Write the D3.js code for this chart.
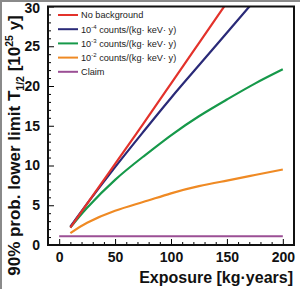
<!DOCTYPE html>
<html>
<head>
<meta charset="utf-8">
<script src="https://cdn.jsdelivr.net/npm/d3@7"></script>
<style>
  body { margin: 0; background: #fff; }
  svg { display: block; font-family: "Liberation Sans", Arial, sans-serif; }
  .axis path { display: none; }
  .axis line { stroke: #000; stroke-width: 1; }
  .axis text { font-size: 14px; font-weight: bold; fill: #111; }
</style>
</head>
<body>
<div id="chart"></div>
<script>
// exposure in kg*years, limit in 10^25 y
var exposure   = [10, 25, 50, 75, 100, 125, 150, 175, 200]
var noBkg      = [2.2, 5.2, 10.2, 15.2, 20.3, 25.4, 30.5]
var bkg1e4     = [2.3, 5.2, 9.8, 14.2, 18.5, 22.6, 26.7, 30.8]
var bkg1e3     = [2.2, 4.7, 8.2, 11.1, 13.8, 16.2, 18.3, 20.3, 22.1]
var bkg1e2     = [1.5, 2.8, 4.3, 5.4, 6.5, 7.4, 8.1, 8.8, 9.5]
var claimX     = [0, 200]
var claimY     = [1.1, 1.1]
var xTicks     = [0, 50, 100, 150, 200]
var yTicks     = [0, 5, 10, 15, 20, 25, 30]

var seriesNames  = ["No background", "-4", "-3", "-2", "Claim"]
var seriesColors = ["#e3322b", "#2a2a78", "#16994a", "#ef8a24", "#9b4f95"]

var width = 300, height = 289

var svg = d3.select("#chart").append("svg")
  .attr("width", width)
  .attr("height", height)

svg.append("rect").attr("width", width).attr("height", height).attr("fill", "#fff")

// grey frame of the scanned figure (left + top)
svg.append("line").attr("x1", 1).attr("x2", 1).attr("y1", 0).attr("y2", height)
  .attr("stroke", "#8a8a8a").attr("stroke-width", 2)
svg.append("line").attr("x1", 0).attr("x2", width).attr("y1", 1).attr("y2", 1)
  .attr("stroke", "#8a8a8a").attr("stroke-width", 2)

var x = d3.scaleLinear().domain([-10, 210]).range([48, 294])
var y = d3.scaleLinear().domain([0, 30]).range([245, 6.5])

svg.append("clipPath").attr("id", "plotclip")
  .append("rect")
  .attr("x", x(-10)).attr("y", y(30))
  .attr("width", x(210) - x(-10)).attr("height", y(0) - y(30))

// minor ticks
svg.append("g").attr("class", "axis")
  .attr("transform", "translate(0," + y(0) + ")")
  .call(d3.axisBottom(x).tickValues(d3.range(0, 201, 10).filter(d => d % 50)).tickSizeInner(-3).tickSizeOuter(0).tickFormat(""))
svg.append("g").attr("class", "axis")
  .attr("transform", "translate(" + x(-10) + ",0)")
  .call(d3.axisLeft(y).tickValues(d3.range(1, 30, 1).filter(d => d % 5)).tickSizeInner(-3).tickSizeOuter(0).tickFormat(""))

// major ticks
svg.append("g").attr("class", "axis")
  .attr("transform", "translate(0," + y(0) + ")")
  .call(d3.axisBottom(x).tickValues(xTicks).tickSizeInner(-6).tickSizeOuter(0).tickPadding(7))
var yAx = svg.append("g").attr("class", "axis")
  .attr("transform", "translate(" + x(-10) + ",0)")
  .call(d3.axisLeft(y).tickValues(yTicks).tickSizeInner(-6).tickSizeOuter(0).tickPadding(8))
// top label sits against the edge, nudge it down a little
yAx.selectAll(".tick text").filter(d => d == 30).attr("dy", "0.45em")

var line = d3.line()
  .x(d => x(d[0]))
  .y(d => y(d[1]))
  .curve(d3.curveNatural)

var curves = [
  d3.zip(exposure, noBkg),
  d3.zip(exposure, bkg1e4),
  d3.zip(exposure, bkg1e3),
  d3.zip(exposure, bkg1e2),
  d3.zip(claimX, claimY)
]

var plot = svg.append("g").attr("clip-path", "url(#plotclip)")
// draw claim first, then from orange up to red
;[4, 3, 2, 1, 0].forEach(i => {
  plot.append("path")
    .datum(curves[i])
    .attr("fill", "none")
    .attr("stroke", seriesColors[i])
    .attr("stroke-width", 2.2)
    .attr("stroke-linejoin", "round")
    .attr("d", line)
})

// plot frame
svg.append("rect")
  .attr("x", x(-10)).attr("y", y(30))
  .attr("width", x(210) - x(-10)).attr("height", y(0) - y(30))
  .attr("fill", "none").attr("stroke", "#111").attr("stroke-width", 2)

// legend
var legend = svg.append("g")
seriesNames.forEach((name, i) => {
  var ly = 15 + i * 14.2
  legend.append("line")
    .attr("x1", 58).attr("x2", 78).attr("y1", ly).attr("y2", ly)
    .attr("stroke", seriesColors[i]).attr("stroke-width", 2)
  var t = legend.append("text")
    .attr("x", 81).attr("y", ly + 3.3)
    .attr("font-size", 9.2).attr("fill", "#222")
  if (i == 0 || i == 4) {
    t.text(name)
  } else {
    t.append("tspan").text("10")
    t.append("tspan").attr("font-size", 6).attr("dy", -3.5).text(name)
    t.append("tspan").attr("dy", 3.5).text(" counts/(kg\u00b7 keV\u00b7 y)")
  }
})

// axis titles
svg.append("text")
  .attr("x", 293).attr("y", 283)
  .attr("text-anchor", "end")
  .attr("font-size", 16).attr("font-weight", "bold").attr("fill", "#111")
  .text("Exposure [kg\u00b7years]")

var yt = svg.append("text")
  .attr("transform", "translate(20,145.5) rotate(-90)")
  .attr("text-anchor", "middle")
  .attr("font-size", 17).attr("font-weight", "bold").attr("fill", "#111")
yt.append("tspan").text("90% prob. lower limit T")
yt.append("tspan").attr("font-size", 10.5).attr("dy", 4).text("1/2")
yt.append("tspan").attr("dy", -4).text(" [10")
yt.append("tspan").attr("font-size", 10.5).attr("dy", -7.5).text("25")
yt.append("tspan").attr("dy", 7.5).text(" y]")
</script>
</body>
</html>
